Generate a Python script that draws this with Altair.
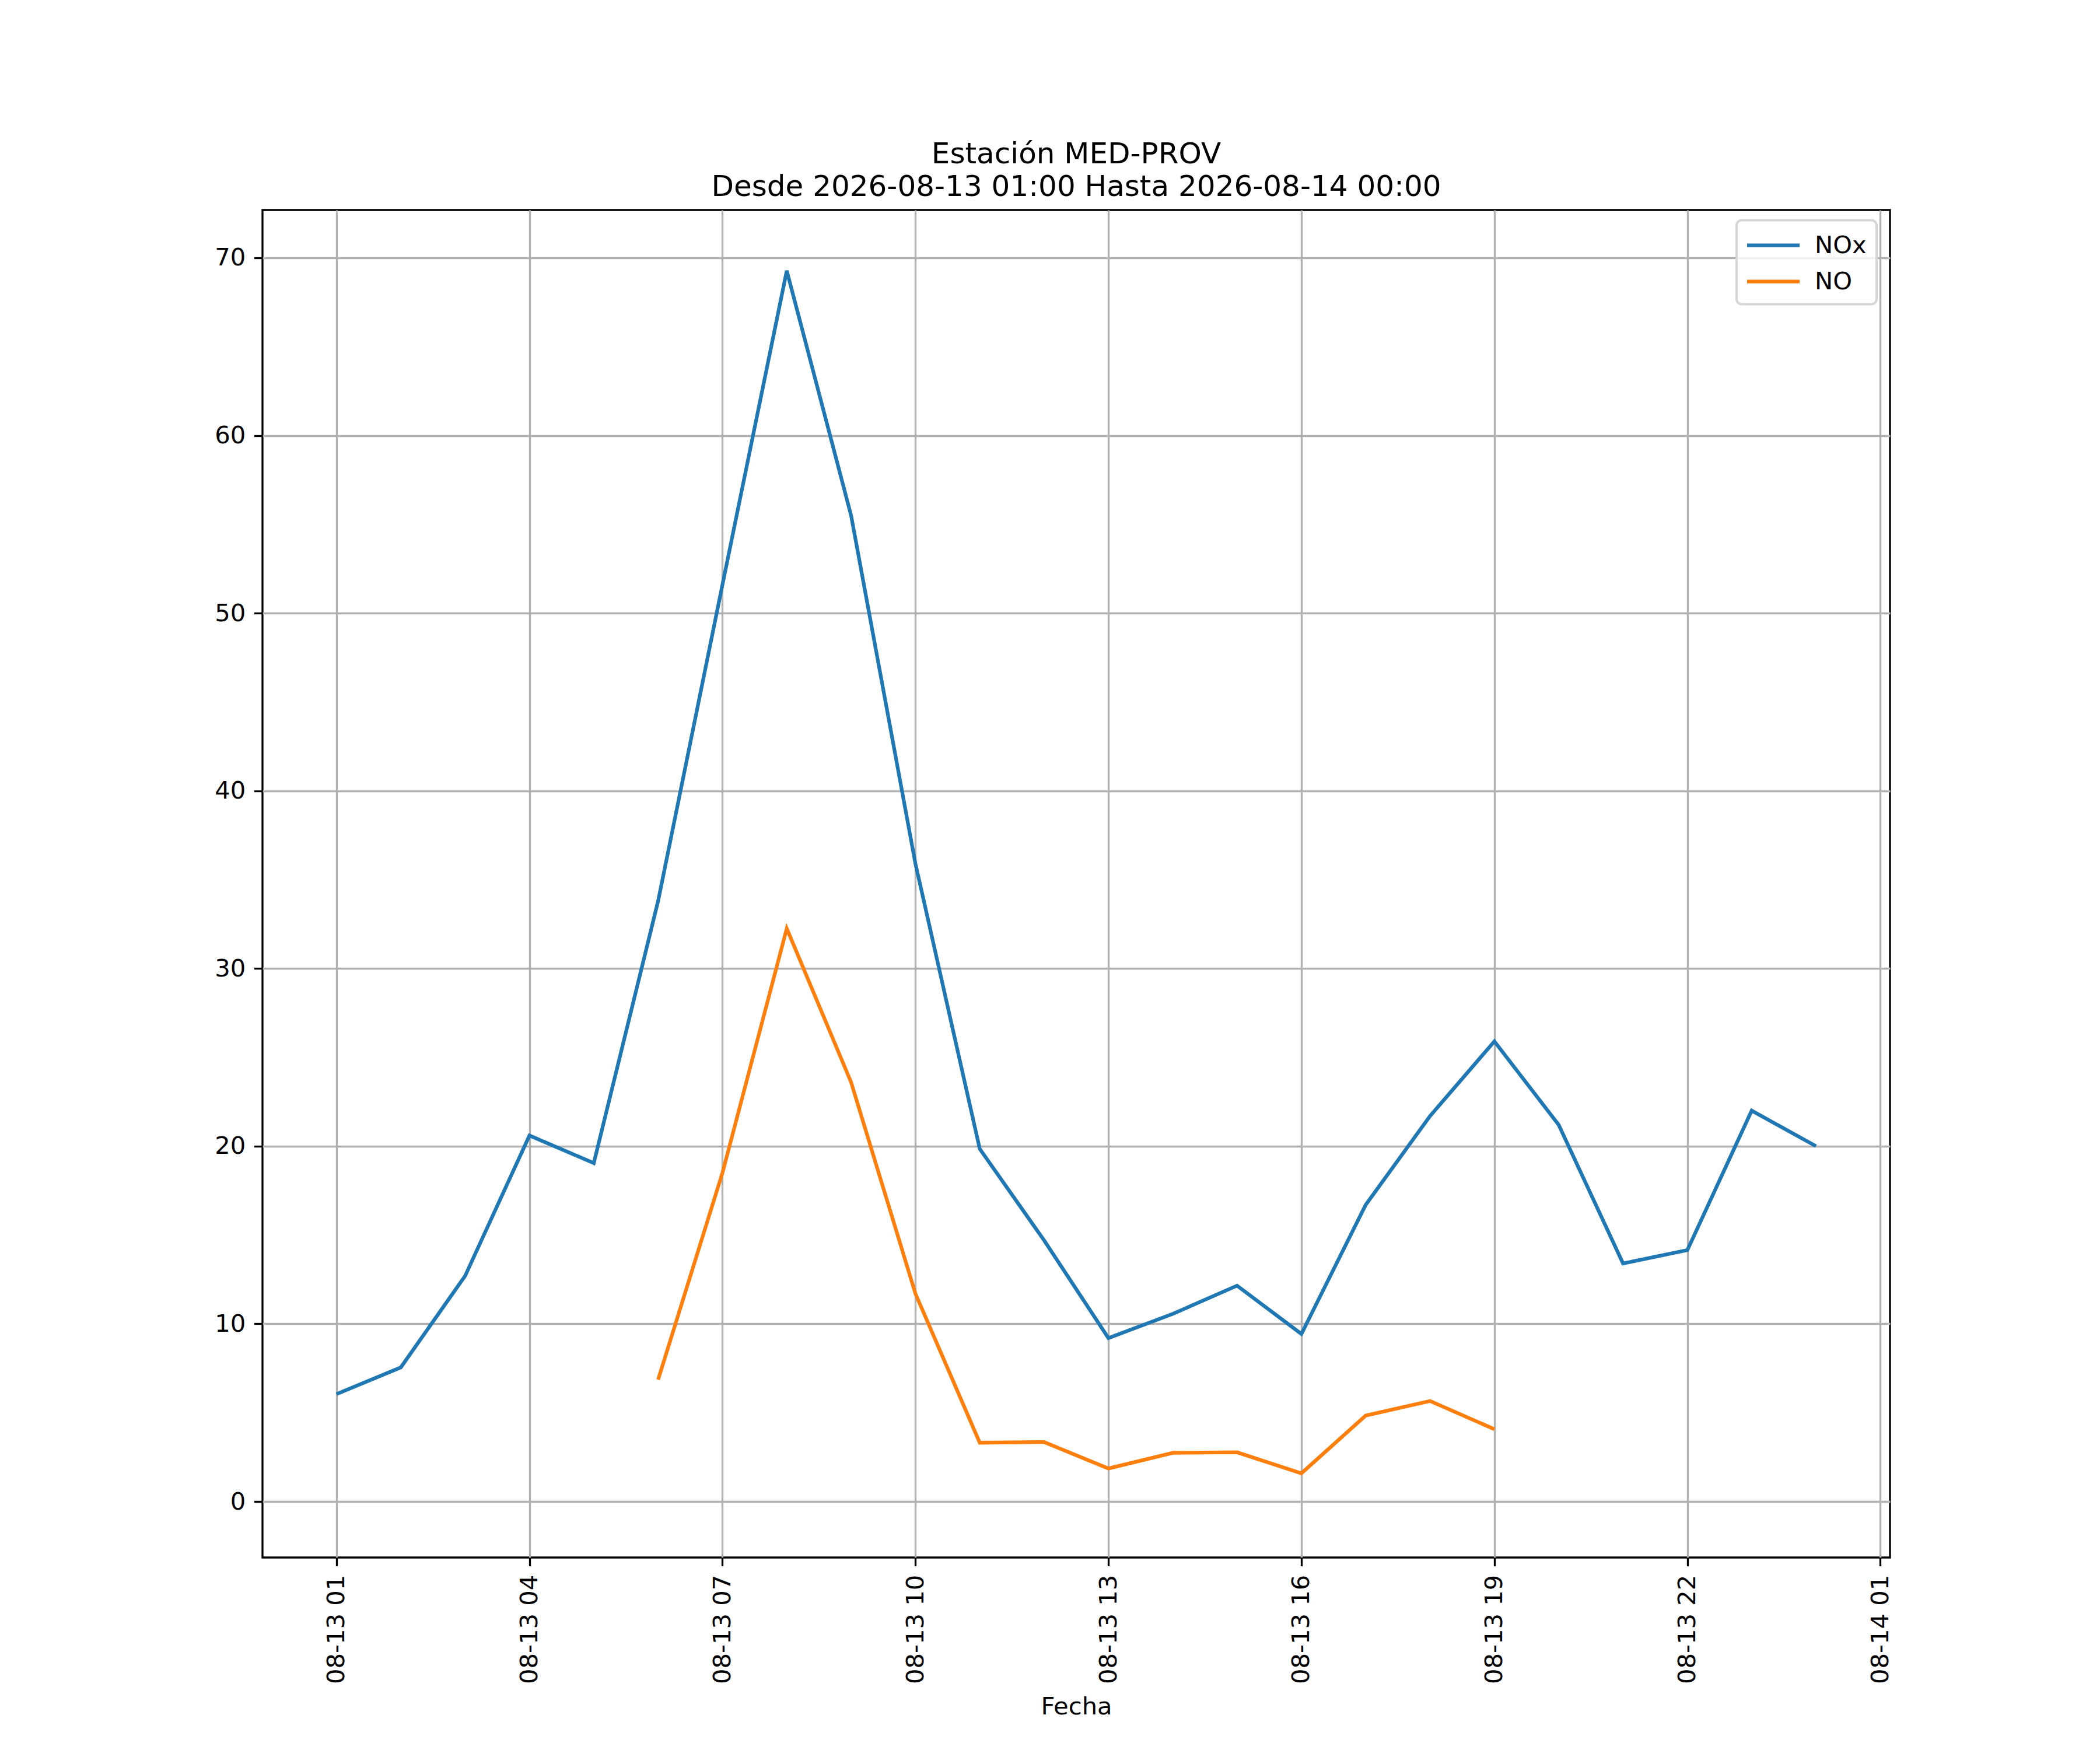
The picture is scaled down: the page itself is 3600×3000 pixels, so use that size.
import altair as alt
import pandas as pd

# horas de 2026-08-13 01:00 a 2026-08-14 00:00
fechas = [f"2026-08-13T{h:02d}:00:00" for h in range(1, 24)] + ["2026-08-14T00:00:00"]

nox = [6.05, 7.55, 12.7, 20.6, 19.05, 33.8, 51.6, 69.27, 55.5, 35.9, 19.85, 14.7,
       9.2, 10.56, 12.15, 9.43, 16.7, 21.7, 25.9, 21.2, 13.4, 14.15, 22.0, 20.0]
no = [None, None, None, None, None, 6.86, 18.5, 32.25, 23.6, 11.7, 3.31, 3.35,
      1.86, 2.74, 2.77, 1.59, 4.84, 5.66, 4.07, None, None, None, None, None]

series = ["NOx", "NO"]
colores = ["#1f77b4", "#ff7f0e"]

rows = []
for nombre, valores in zip(series, [nox, no]):
    for f, v in zip(fechas, valores):
        if v is not None:
            rows.append({"Fecha": f, "valor": v, "serie": nombre})
df = pd.DataFrame(rows)

PX = 300 / 72  # px por punto a 300 dpi
FONT = "DejaVu Sans"

ticks_x = [alt.DateTime(year=2026, month=8, date=13, hours=h) for h in range(1, 24, 3)]
ticks_x.append(alt.DateTime(year=2026, month=8, date=14, hours=1))

x_dom = [alt.DateTime(year=2026, month=8, date=12, hours=23, minutes=51),
         alt.DateTime(year=2026, month=8, date=14, hours=1, minutes=9)]

chart = alt.Chart(df).mark_line(strokeWidth=1.5 * PX, clip=True).encode(
    x=alt.X("Fecha:T", title="Fecha",
            scale=alt.Scale(domain=x_dom),
            axis=alt.Axis(values=ticks_x, format="%m-%d %H", labelAngle=270,
                          labelOverlap=False, labelFlush=False, labelLimit=0,
                          titlePadding=35)),
    y=alt.Y("valor:Q", title=None,
            scale=alt.Scale(domain=[-3.15, 72.69], nice=False, zero=False),
            axis=alt.Axis(values=[0, 10, 20, 30, 40, 50, 60, 70])),
    color=alt.Color("serie:N", sort=series,
                    scale=alt.Scale(domain=series, range=colores),
                    legend=alt.Legend(title=None, orient="none",
                                      legendX=2527, legendY=17.5,
                                      symbolType="M-2,0H2", symbolSize=2025,
                                      symbolStrokeWidth=1.5 * PX,
                                      symbolOffset=20, labelOffset=45,
                                      labelFontSize=10 * PX, labelFont=FONT,
                                      labelColor="black",
                                      strokeColor="#d6d6d6",
                                      cornerRadius=9,
                                      fillColor="rgba(255,255,255,0.8)")),
).properties(
    width=2790,
    height=2310,
    autosize=alt.AutoSizeParams(type="none"),
    padding={"left": 442, "top": 352, "right": 352, "bottom": 322},
    title=alt.TitleParams(
        text=["Estación MED-PROV", "Desde 2026-08-13 01:00 Hasta 2026-08-14 00:00"],
        font=FONT, fontSize=12 * PX, fontWeight="normal", color="black",
        anchor="middle", lineHeight=56, offset=14),
).configure_view(
    stroke="black", strokeWidth=0.8 * PX
).configure_legend(
    strokeWidth=1.0 * PX, rowPadding=14, padding=17,
).configure_axis(
    domain=False,
    grid=True, gridColor="#b0b0b0", gridWidth=0.8 * PX,
    tickColor="black", tickWidth=0.8 * PX, tickSize=3.5 * PX,
    labelPadding=3.5 * PX, labelFont=FONT, labelFontSize=10 * PX,
    labelColor="black", titleFont=FONT, titleFontSize=10 * PX,
    titleFontWeight="normal", titleColor="black",
)

chart.save("out.html", embed_options={"renderer": "svg", "actions": False})
